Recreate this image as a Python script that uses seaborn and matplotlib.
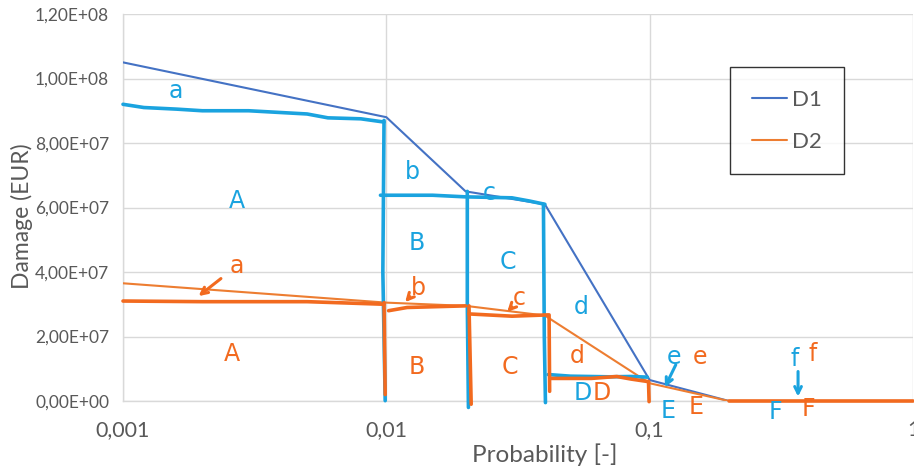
import matplotlib
matplotlib.use("Agg")
import matplotlib.pyplot as plt
from matplotlib.ticker import FuncFormatter, FixedLocator, NullLocator
import seaborn as sns
import pandas as pd

# Damage-probability curves
prob = [0.001, 0.01, 0.02, 0.04, 0.1, 0.2, 1.0]
d1 = [1.05e8, 8.8e7, 6.5e7, 6.1e7, 6.5e6, 0.0, 0.0]
d2 = [3.65e7, 3.05e7, 2.95e7, 2.65e7, 5.5e6, 0.0, 0.0]

x_ticks = [0.001, 0.01, 0.1, 1]
x_tick_labels = ["0,001", "0,01", "0,1", "1"]
y_ticks = [0, 2e7, 4e7, 6e7, 8e7, 1e8, 1.2e8]

# Hand-sketched step outlines (probability, damage)
blue_a_top = ([0.001, 0.0012, 0.0016, 0.002, 0.003, 0.005, 0.006, 0.008, 0.0098],
              [9.2e7, 9.1e7, 9.05e7, 9.0e7, 9.0e7, 8.9e7, 8.78e7, 8.75e7, 8.65e7])
blue_v1 = ([0.0098, 0.0097, 0.0099], [8.7e7, 4.0e7, 0.1e6])
blue_b_top = ([0.0095, 0.015, 0.02, 0.03, 0.035, 0.04],
              [6.38e7, 6.38e7, 6.33e7, 6.3e7, 6.2e7, 6.1e7])
blue_v2 = ([0.0203, 0.0203, 0.0205], [6.5e7, 3.0e7, -0.2e7])
blue_v3 = ([0.0395, 0.0398, 0.0402], [6.1e7, 2.0e7, -0.05e7])
blue_d_top = ([0.0412, 0.05, 0.07, 0.085, 0.098],
              [8.2e6, 7.7e6, 7.5e6, 7.6e6, 7.4e6])

orange_a_top = ([0.001, 0.002, 0.005, 0.0098], [3.1e7, 3.08e7, 3.08e7, 3.0e7])
orange_v1 = ([0.0098, 0.0099], [3.05e7, 0.2e7])
orange_b_top = ([0.0102, 0.012, 0.02], [2.8e7, 2.9e7, 2.95e7])
orange_v2 = ([0.0206, 0.021], [2.95e7, -0.1e7])
orange_c_top = ([0.0206, 0.03, 0.041], [2.7e7, 2.63e7, 2.67e7])
orange_v3 = ([0.0415, 0.0417], [2.67e7, 0.3e7])
orange_d_top = ([0.042, 0.06, 0.075, 0.085, 0.099], [7.0e6, 7.0e6, 7.6e6, 6.8e6, 6.0e6])
orange_v4 = ([0.099, 0.0995], [6.0e6, -0.2e6])
orange_floor = ([0.2, 1.0], [0.0, 0.0])

# Sketched area letters: (text, probability, damage)
blue_letters = [("a", 0.00158, 9.6e7), ("A", 0.0027, 6.2e7), ("b", 0.0126, 7.1e7),
                ("B", 0.013, 4.9e7), ("c", 0.0245, 6.45e7), ("C", 0.029, 4.3e7),
                ("d", 0.055, 2.9e7), ("D", 0.0555, 0.25e7), ("e", 0.124, 1.35e7),
                ("E", 0.118, -0.3e7), ("f", 0.355, 1.3e7), ("F", 0.30, -0.35e7)]
orange_letters = [("a", 0.0027, 4.2e7), ("A", 0.0026, 1.45e7), ("b", 0.0132, 3.5e7),
                  ("B", 0.0130, 1.05e7), ("c", 0.032, 3.2e7), ("C", 0.0295, 1.05e7),
                  ("d", 0.053, 1.4e7), ("D", 0.066, 0.25e7), ("e", 0.155, 1.35e7),
                  ("E", 0.150, -0.2e7), ("f", 0.415, 1.45e7), ("F", 0.40, -0.25e7)]
# Arrows: (tail probability, tail damage, head probability, head damage)
blue_arrows = [(0.127, 1.2e7, 0.113, 0.35e7), (0.366, 1.0e7, 0.366, 0.05e7)]
orange_arrows = [(0.0024, 3.85e7, 0.0019, 3.2e7), (0.0125, 3.3e7, 0.0116, 3.0e7),
                 (0.0305, 2.98e7, 0.0283, 2.7e7)]

BLUE_LINE = "#4472C4"
ORANGE_LINE = "#ED7D31"
PEN_BLUE = "#1AA3DF"
PEN_ORANGE = "#F26A1F"
TEXT_GREY = "#595959"
GRID = "#D9D9D9"

sns.set_theme(style="white")
plt.rcParams["font.family"] = ["Lato", "DejaVu Sans"]

fig = plt.figure(figsize=(9.14, 4.71), dpi=100)
ax = fig.add_axes([123 / 914, 1 - 401 / 471, 790 / 914, 387 / 471])

df = pd.DataFrame({
    "Probability": prob * 2,
    "Damage": d1 + d2,
    "Series": ["D1"] * len(prob) + ["D2"] * len(prob),
})
sns.lineplot(data=df, x="Probability", y="Damage", hue="Series",
             palette={"D1": BLUE_LINE, "D2": ORANGE_LINE}, linewidth=1.5,
             sort=False, estimator=None, ax=ax, zorder=3)

ax.set_xscale("log")
ax.set_xlim(0.001, 1)
ax.set_ylim(0, 1.2e8)

pen_kw = dict(linewidth=2.6, solid_capstyle="round", clip_on=False, zorder=4)
for xs, ys in [blue_a_top, blue_v1, blue_b_top, blue_v2, blue_v3, blue_d_top]:
    ax.plot(xs, ys, color=PEN_BLUE, **pen_kw)
for xs, ys in [orange_a_top, orange_v1, orange_b_top, orange_v2, orange_c_top,
               orange_v3, orange_d_top, orange_v4, orange_floor]:
    ax.plot(xs, ys, color=PEN_ORANGE, **pen_kw)

for s, x, y in blue_letters:
    ax.text(x, y, s, color=PEN_BLUE, fontsize=17, ha="center", va="center",
            family="DejaVu Sans", clip_on=False, zorder=5)
for s, x, y in orange_letters:
    ax.text(x, y, s, color=PEN_ORANGE, fontsize=17, ha="center", va="center",
            family="DejaVu Sans", clip_on=False, zorder=5)
for x0, y0, x1, y1 in blue_arrows:
    ax.annotate("", xy=(x1, y1), xytext=(x0, y0),
                arrowprops=dict(arrowstyle="->", color=PEN_BLUE, lw=2.2), zorder=5)
for x0, y0, x1, y1 in orange_arrows:
    ax.annotate("", xy=(x1, y1), xytext=(x0, y0),
                arrowprops=dict(arrowstyle="->", color=PEN_ORANGE, lw=2.2), zorder=5)

# Axes, ticks and grid
ax.xaxis.set_major_locator(FixedLocator(x_ticks))
ax.xaxis.set_minor_locator(NullLocator())
ax.set_xticklabels(x_tick_labels)
ax.yaxis.set_major_locator(FixedLocator(y_ticks))
ax.yaxis.set_major_formatter(FuncFormatter(lambda v, p: f"{v:.2E}".replace(".", ",")))
ax.grid(True, color=GRID, linewidth=1.0)
ax.set_axisbelow(True)
for side in ["top", "right"]:
    ax.spines[side].set_visible(False)
for side in ["left", "bottom"]:
    ax.spines[side].set_color(GRID)
    ax.spines[side].set_linewidth(1.0)
ax.tick_params(axis="y", labelsize=12.5, labelcolor=TEXT_GREY, length=0, pad=10)
ax.tick_params(axis="x", labelsize=15.5, labelcolor=TEXT_GREY, length=0, pad=14)
ax.set_xlabel("Probability [-]", fontsize=17.5, color=TEXT_GREY)
ax.set_ylabel("Damage (EUR)", fontsize=16.5, color=TEXT_GREY)
ax.xaxis.set_label_coords(0.534, -0.138, transform=ax.transAxes)
ax.yaxis.set_label_coords(-0.128, 0.478, transform=ax.transAxes)
ax.xaxis.label.set_va("center")
ax.yaxis.label.set_va("center")

leg = ax.legend(loc="upper left", bbox_to_anchor=(0.768, 0.862), frameon=True,
                fancybox=False, edgecolor="black", fontsize=16, handlelength=1.6,
                handletextpad=0.2, labelspacing=1.0, borderpad=1.0, borderaxespad=0)
leg.get_frame().set_linewidth(1.0)
for t in leg.get_texts():
    t.set_color(TEXT_GREY)
leg.set_zorder(6)

fig.savefig("out.png", dpi=100)
